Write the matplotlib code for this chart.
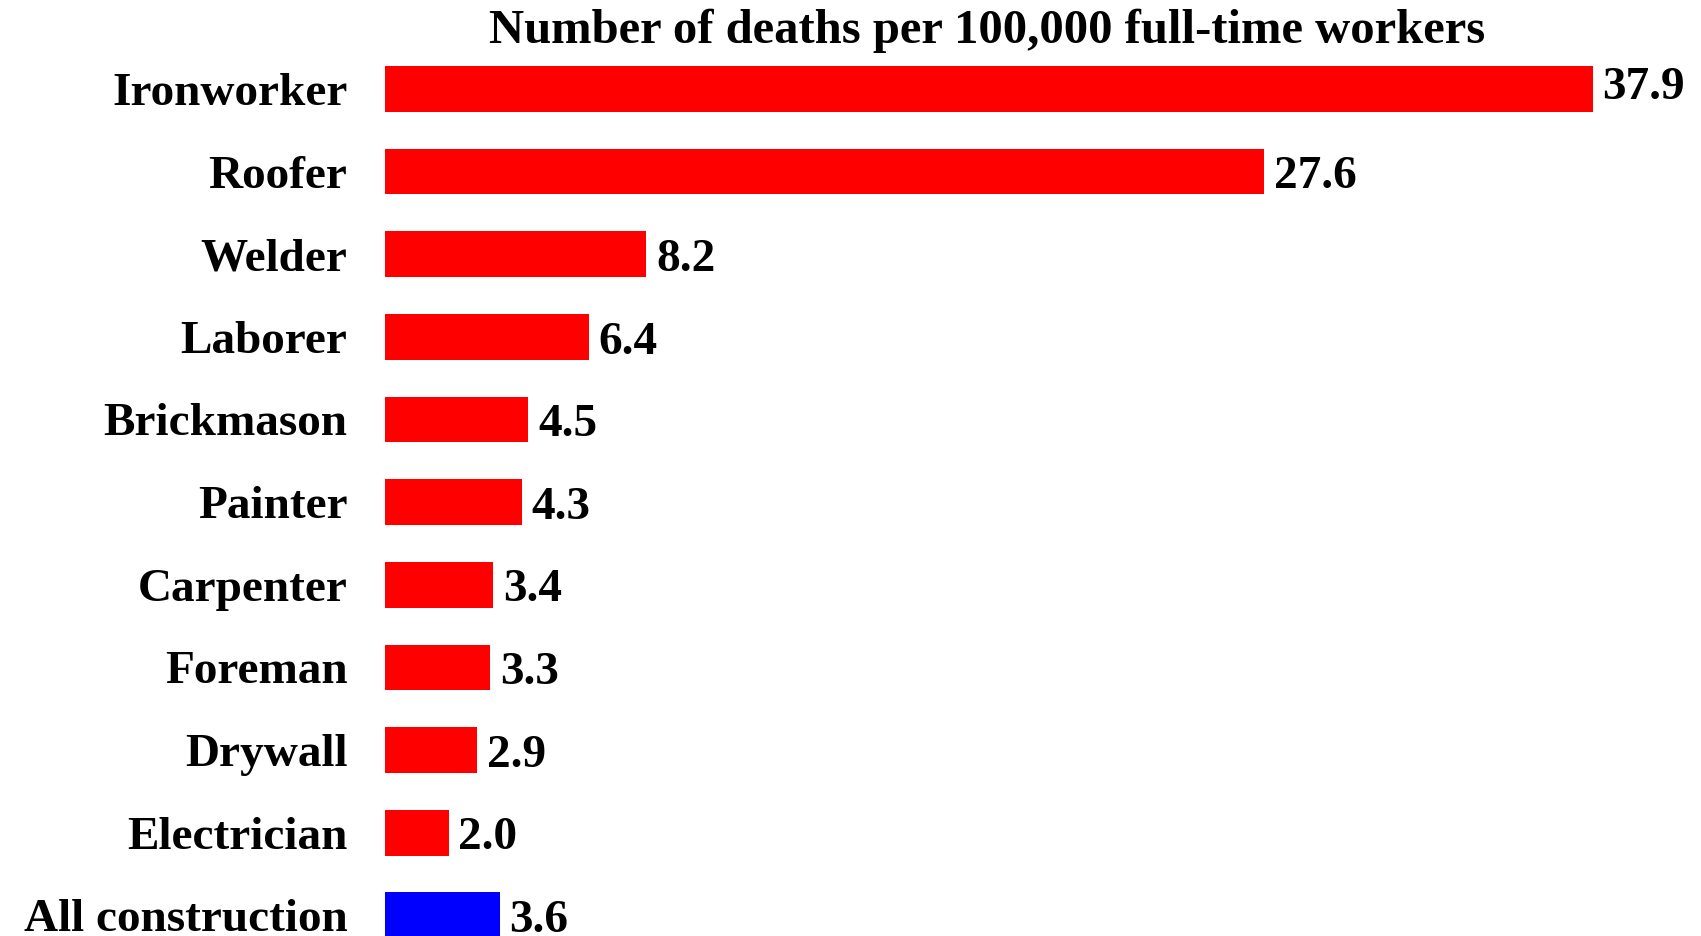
import matplotlib
matplotlib.use("Agg")
import matplotlib.pyplot as plt

# Data
occupations = ["Ironworker", "Roofer", "Welder", "Laborer", "Brickmason", "Painter",
               "Carpenter", "Foreman", "Drywall", "Electrician", "All construction"]
deaths = [37.9, 27.6, 8.2, 6.4, 4.5, 4.3, 3.4, 3.3, 2.9, 2.0, 3.6]
bar_colors = ["#ff0000"] * 10 + ["#0000ff"]

plt.rcParams['font.family'] = ['Liberation Serif', 'DejaVu Serif']
plt.rcParams['font.weight'] = 'bold'

fig = plt.figure(figsize=(17.01, 9.36), dpi=100)
ax = fig.add_axes([385 / 1701, 0, 1 - 385 / 1701, 1])

pos = list(range(len(occupations)))
ax.barh(pos, deaths, height=0.553, color=bar_colors)

# value labels at the bar ends, digits centred on the bar
for y, v in zip(pos, deaths):
    dy = -12 if y > 0 else -7   # top label sits a bit higher in the original
    ax.annotate(f"{v:.1f}", xy=(v, y), xytext=(7, dy), textcoords="offset points",
                ha="left", va="baseline", fontsize=34, fontweight="bold")

ax.set_xlim(0, 41.3)
ax.set_ylim(10.25, -1.076)
ax.set_yticks(pos)
ax.set_yticklabels(occupations, fontsize=34, fontweight="bold")
ax.tick_params(axis="y", length=0, pad=27)
ax.set_xticks([])
for s in ax.spines.values():
    s.set_visible(False)

fig.text(987 / 1701, 1 - 43 / 936, "Number of deaths per 100,000 full-time workers",
         ha="center", va="baseline", fontsize=35, fontweight="bold")

fig.savefig("out.png", dpi=100)
